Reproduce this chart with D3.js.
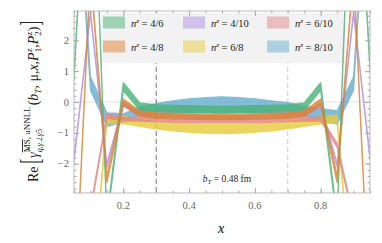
<!DOCTYPE html>
<html>
<head>
<meta charset="utf-8">
<script src="https://cdn.jsdelivr.net/npm/d3@7"></script>
<style>
  body { margin: 0; background: #fff; }
  text { font-family: "Liberation Serif", serif; }
</style>
</head>
<body>
<svg id="chart" width="382" height="243"></svg>
<script>
// x grid of the data
var xs = [0.05, 0.10, 0.15, 0.20, 0.25, 0.30, 0.35, 0.40, 0.45, 0.50,
          0.55, 0.60, 0.65, 0.70, 0.75, 0.80, 0.85, 0.90, 0.95];

// series labels (n^z ratios) and colours
var labels = ["4/6", "4/8", "4/10", "6/8", "6/10", "8/10"];
var colors = ["#4cb37a", "#e0822f", "#ad90e3", "#e9cb3e", "#e48588", "#68aecd"];

// central values and half widths
var mid46  = [0.8, 10.5, -3.8, 0.5, -0.15, -0.2, -0.22, -0.23, -0.24, -0.25, -0.24, -0.23, -0.22, -0.2, -0.15, 0.5, -3.8, 10.5, 1.1];
var err46  = [0.1, 0.1, 0.1, 0.13, 0.12, 0.11, 0.11, 0.11, 0.11, 0.11, 0.11, 0.11, 0.11, 0.11, 0.12, 0.13, 0.1, 0.1, 0.1];
var mid48  = [-7, 4.2, -2.5, 0.0, -0.38, -0.44, -0.46, -0.47, -0.48, -0.48, -0.48, -0.47, -0.46, -0.44, -0.38, 0.0, -2.5, 4.2, -7];
var err48  = [0.1, 0.1, 0.12, 0.1, 0.09, 0.09, 0.09, 0.09, 0.09, 0.09, 0.09, 0.09, 0.09, 0.09, 0.09, 0.1, 0.12, 0.1, 0.1];
var mid410 = [-1.9, 2.9, -2.05, -0.08, -0.4, -0.45, -0.46, -0.47, -0.48, -0.48, -0.48, -0.47, -0.46, -0.45, -0.4, -0.12, -2.05, 2.9, -1.8];
var err410 = [0.06, 0.06, 0.06, 0.06, 0.05, 0.05, 0.05, 0.05, 0.05, 0.05, 0.05, 0.05, 0.05, 0.05, 0.05, 0.06, 0.06, 0.06, 0.06];
var mid68  = [-5, -6.8, -0.56, -0.58, -0.68, -0.75, -0.8, -0.83, -0.85, -0.86, -0.85, -0.83, -0.8, -0.75, -0.68, -0.6, -0.55, -6.8, -5];
var err68  = [0.1, 0.1, 0.13, 0.12, 0.11, 0.12, 0.14, 0.15, 0.16, 0.17, 0.16, 0.15, 0.14, 0.12, 0.11, 0.11, 0.13, 0.1, 0.1];
var mid610 = [-7, -3.5, -0.45, -0.55, -0.56, -0.58, -0.59, -0.6, -0.6, -0.6, -0.6, -0.6, -0.59, -0.58, -0.56, -0.55, -1.4, -3.8, -7];
var err610 = [0.08, 0.08, 0.07, 0.06, 0.06, 0.06, 0.06, 0.06, 0.06, 0.06, 0.06, 0.06, 0.06, 0.06, 0.06, 0.06, 0.07, 0.08, 0.08];
var mid810 = [9, 0.6, -0.57, -0.52, -0.3, -0.22, -0.16, -0.12, -0.1, -0.09, -0.1, -0.12, -0.16, -0.2, -0.3, -0.4, -0.5, 0.6, 9];
var err810 = [0.15, 0.22, 0.22, 0.14, 0.14, 0.17, 0.2, 0.22, 0.24, 0.26, 0.24, 0.22, 0.2, 0.18, 0.16, 0.18, 0.22, 0.22, 0.15];

var mids = [mid46, mid48, mid410, mid68, mid610, mid810];
var errs = [err46, err48, err410, err68, err610, err810];

// drawing order of the bands (bottom first)
var drawOrder = [5, 3, 4, 2, 0, 1];

// tick values
var xMajor = [0.2, 0.4, 0.6, 0.8];
var xMinor = d3.range(1, 20).map(function (i) { return i * 0.05; });
var yMajor = [-2, -1, 0, 1, 2];
var yMinor = d3.range(-14, 15).map(function (i) { return i * 0.2; });
var dashes = [0.3, 0.7];

var pLeft = 74, pRight = 370, pTop = 11, pBottom = 193;

var x = d3.scaleLinear().domain([0.05, 0.95]).range([pLeft, pRight]);
var y = d3.scaleLinear().domain([-2.95, 2.95]).range([pBottom, pTop]);

var svg = d3.select('#chart');

svg.append('clipPath').attr('id', 'clip')
  .append('rect')
    .attr('x', pLeft).attr('y', pTop)
    .attr('width', pRight - pLeft).attr('height', pBottom - pTop);

// zero line
svg.append('line')
    .attr('x1', pLeft).attr('x2', pRight)
    .attr('y1', y(0)).attr('y2', y(0))
    .attr('stroke', '#e2e2e2').attr('stroke-width', 1);

// dashed guide lines
svg.selectAll('line.guide')
  .data(dashes)
  .enter().append('line')
    .attr('class', 'guide')
    .attr('x1', function (d) { return x(d); })
    .attr('x2', function (d) { return x(d); })
    .attr('y1', pTop).attr('y2', pBottom)
    .attr('stroke', function (d, i) { return i === 0 ? '#777' : '#ccc'; })
    .attr('stroke-width', 1)
    .attr('stroke-dasharray', '5,3');

// legend box sits under the curves
var legend = svg.append('g');
legend.append('rect')
    .attr('x', 101).attr('y', 13)
    .attr('width', 244).attr('height', 50)
    .attr('fill', '#f2f2f2');

// bands
var area = d3.area()
  .x(function (d) { return x(d.x); })
  .y0(function (d) { return y(d.m - d.e); })
  .y1(function (d) { return y(d.m + d.e); });

var bands = svg.append('g').attr('clip-path', 'url(#clip)');

drawOrder.forEach(function (k) {
  var data = xs.map(function (v, i) { return { x: v, m: mids[k][i], e: errs[k][i] }; });
  bands.append('g')
      .attr('opacity', 0.82)
    .append('path')
      .datum(data)
      .attr('d', area)
      .attr('fill', colors[k])
      .attr('stroke', colors[k])
      .attr('stroke-width', 1.2)
      .attr('stroke-linejoin', 'round');
});

// frame
svg.append('rect')
    .attr('x', pLeft).attr('y', pTop)
    .attr('width', pRight - pLeft).attr('height', pBottom - pTop)
    .attr('fill', 'none').attr('stroke', '#bbb').attr('stroke-width', 1);

// ticks on all four sides
function tickAxis(axisFn, scale, values, size, tx, ty) {
  var ax = axisFn(scale).tickValues(values).tickSizeInner(-size).tickSizeOuter(0).tickFormat('');
  var g = svg.append('g')
      .attr('transform', 'translate(' + tx + ',' + ty + ')')
      .call(ax);
  g.select('.domain').remove();
  g.selectAll('.tick line').attr('stroke', '#aaa');
  return g;
}

var fmt = function (d) { return d < 0 ? '\u2212' + Math.abs(d) : String(d); };

tickAxis(d3.axisBottom, x, xMinor, 2.5, 0, pBottom);
tickAxis(d3.axisTop, x, xMinor, 2.5, 0, pTop);
tickAxis(d3.axisBottom, x, xMajor, 5, 0, pBottom);
tickAxis(d3.axisTop, x, xMajor, 5, 0, pTop);
tickAxis(d3.axisLeft, y, yMinor, 2.5, pLeft, 0);
tickAxis(d3.axisRight, y, yMinor, 2.5, pRight, 0);
tickAxis(d3.axisLeft, y, yMajor, 5, pLeft, 0);
tickAxis(d3.axisRight, y, yMajor, 5, pRight, 0);

// tick labels
svg.selectAll('text.xl')
  .data(xMajor)
  .enter().append('text')
    .attr('class', 'xl')
    .attr('x', function (d) { return x(d); })
    .attr('y', 209)
    .attr('text-anchor', 'middle')
    .attr('font-size', 10.5)
    .attr('fill', '#666')
    .text(function (d) { return d.toFixed(1); });

svg.selectAll('text.yl')
  .data(yMajor)
  .enter().append('text')
    .attr('class', 'yl')
    .attr('x', 69)
    .attr('y', function (d) { return y(d) + 3.5; })
    .attr('text-anchor', 'end')
    .attr('font-size', 10.5)
    .attr('fill', '#666')
    .text(fmt);

// x label
svg.append('text')
    .attr('x', 221).attr('y', 233)
    .attr('text-anchor', 'middle')
    .attr('font-size', 14)
    .style('font-style', 'italic')
    .text('x');

// b_T annotation
var bt = svg.append('text')
    .attr('x', 227).attr('y', 182)
    .attr('text-anchor', 'middle')
    .attr('font-size', 9.5)
    .attr('fill', '#222');
bt.append('tspan').style('font-style', 'italic').text('b');
bt.append('tspan').style('font-style', 'italic').attr('font-size', 7).attr('dy', 2).text('T');
bt.append('tspan').attr('dy', -2).text(' = 0.48 fm');

// legend entries
var colX = [103, 183, 267];
var rowY = [22.5, 46.5];
var entries = svg.append('g');
labels.forEach(function (lab, i) {
  var cx = colX[Math.floor(i / 2)], cy = rowY[i % 2];
  entries.append('rect')
      .attr('x', cx).attr('y', cy - 6)
      .attr('width', 22).attr('height', 12)
      .attr('fill', colors[i]).attr('opacity', 0.5);
  var t = entries.append('text')
      .attr('x', cx + 28).attr('y', cy + 4)
      .attr('font-size', 10.5)
      .attr('fill', '#222');
  t.append('tspan').style('font-style', 'italic').text('n');
  t.append('tspan').style('font-style', 'italic').attr('font-size', 7).attr('dy', -4).text('z');
  t.append('tspan').attr('dy', 4).text(' = ' + lab);
});

// y label, laid out piece by piece in a rotated group
var yl = svg.append('g');
var cur = 0;
function piece(str, size, dy, italic, advance) {
  var t = yl.append('text')
      .attr('x', cur).attr('y', dy)
      .attr('font-size', size)
      .attr('fill', '#222')
      .style('font-style', italic ? 'italic' : 'normal')
      .text(str);
  var w = t.node().getComputedTextLength();
  if (advance) cur += w;
  return { t: t, w: w };
}
function stack(sup, sub, size, supDy, subDy, italic) {
  var a = piece(sup, size, supDy, italic, false);
  var b = piece(sub, size, subDy, italic, false);
  cur += Math.max(a.w, b.w);
  return a;
}
piece('Re', 14, 0, false, true);
cur += 3;
var br = piece('[', 14, 0, false, true);
br.t.attr('transform', 'translate(0,3) scale(1,1.9) translate(0,-1)');
cur += 1;
piece('\u03b3\u0302', 14, 0, true, true);
var sup = piece('MS', 9, -8, false, false);
sup.t.style('text-decoration', 'overline');
var msw = sup.w;
var sub = piece('q,\u03b3\u22a5\u03b3', 8, 4, true, false);
yl.append('text').attr('x', cur + sub.w).attr('y', 4).attr('font-size', 8).attr('fill', '#222').text('5');
var sup2 = yl.append('text').attr('x', cur + msw).attr('y', -8).attr('font-size', 9).attr('fill', '#222').text(', uNNLL');
var sup2w = sup2.node().getComputedTextLength();
cur += Math.max(msw + sup2w, sub.w + 4) + 1;
piece('(', 14, 0, false, true);
piece('b', 14, 0, true, true);
piece('T', 9, 3, true, true);
piece(', \u03bc, ', 14, 0, false, true);
piece('x', 14, 0, true, true);
piece(', ', 14, 0, false, true);
piece('P', 14, 0, true, true);
stack('z', '1', 9, -6, 3, false);
piece(', ', 14, 0, false, true);
piece('P', 14, 0, true, true);
stack('z', '2', 9, -6, 3, false);
piece(')', 14, 0, false, true);
cur += 1;
var br2 = piece(']', 14, 0, false, true);
br2.t.attr('transform', 'translate(0,3) scale(1,1.9) translate(0,-1)');

yl.attr('transform', 'translate(38,' + (101.5 + cur / 2) + ') rotate(-90)');
</script>
</body>
</html>
